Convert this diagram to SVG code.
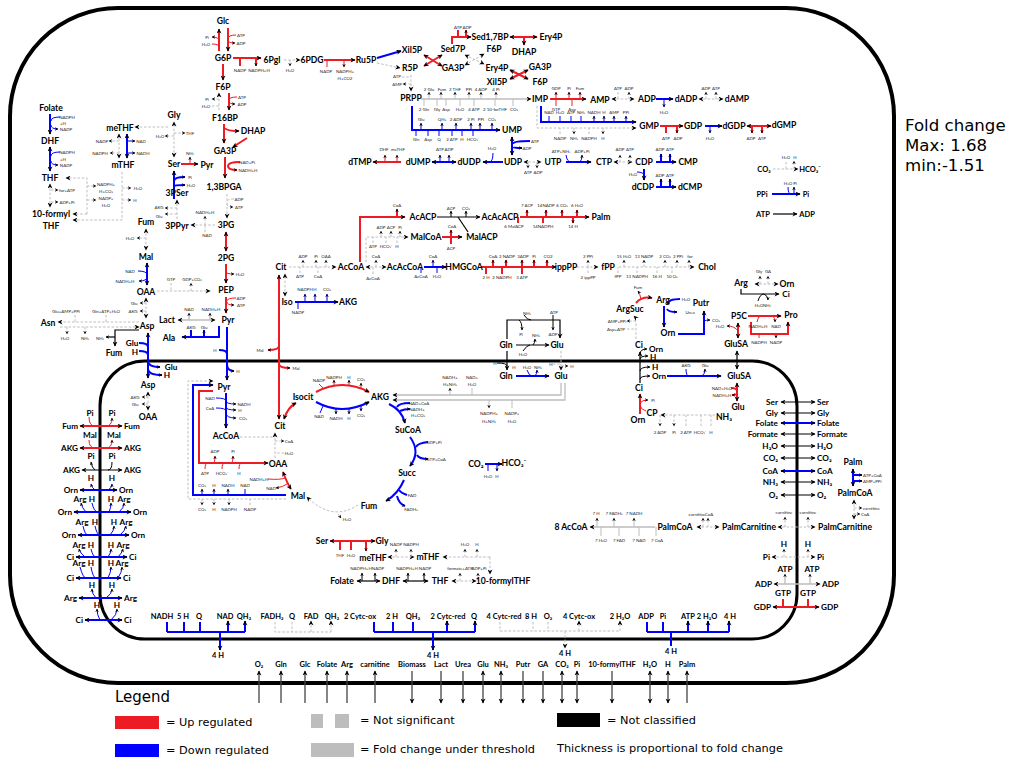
<svg xmlns="http://www.w3.org/2000/svg" width="1012" height="760" viewBox="0 0 1012 760">
<defs>
<style>
.m{font-family:Lato,'Liberation Sans',sans-serif;font-weight:700;font-size:8.6px;text-anchor:middle;dominant-baseline:central;fill:#000}
.m9{font-size:8.2px}
.m8{font-size:7.5px}
.s{font-family:Lato,'Liberation Sans',sans-serif;font-size:4.4px;text-anchor:middle;dominant-baseline:central;fill:#222}
.L{text-anchor:end}
.R{text-anchor:start}
.r{stroke:#ED1C24;fill:none;stroke-width:2}
.b{stroke:#0000FF;fill:none;stroke-width:2}
.g{stroke:#BDBDBD;fill:none;stroke-width:1;stroke-dasharray:2.5 1.8}
.l{stroke:#BDBDBD;fill:none;stroke-width:1.3}
.k{stroke:#000;fill:none;stroke-width:1.2}
.x{stroke:#444;fill:none;stroke-width:1.3}
.t{stroke-width:1}
.e{marker-end:url(#ah)}
.se{marker-start:url(#ah);marker-end:url(#ah)}
.c{marker-end:url(#as)}
.leg{font-family:'DejaVu Sans',Verdana,sans-serif;fill:#000}
</style>
<marker id="ah" viewBox="0 0 10 10" refX="9" refY="5" markerWidth="6" markerHeight="5" markerUnits="userSpaceOnUse" orient="auto-start-reverse"><path d="M0,0L10,5L0,10L3,5z" fill="#000"/></marker>
<marker id="as" viewBox="0 0 10 10" refX="9" refY="5" markerWidth="4" markerHeight="3.5" markerUnits="userSpaceOnUse" orient="auto-start-reverse"><path d="M0,0L10,5L0,10L3,5z" fill="#000"/></marker>
</defs>
<rect width="1012" height="760" fill="#fff"/>
<g id="compartments">
<rect x="10" y="8" width="884" height="675" rx="108" fill="none" stroke="#000" stroke-width="4"/>
<rect x="100" y="361" width="697" height="278" rx="45" fill="none" stroke="#000" stroke-width="3"/>
</g>
<g id="connectors">
<!-- glycolysis -->
<path class="r e" stroke-width="3" d="M219,51V29"/><path class="r t c" d="M219,41Q219,37 212,37"/><path class="r t" d="M212,44Q219,44 219,47"/>
<path class="r e" stroke-width="3" d="M228,28V51"/><path class="r t" d="M236,35Q228,35 228,39"/><path class="r t c" d="M228,40Q228,43 235,43"/>
<path class="r e" stroke-width="4" d="M233,58H261"/><path class="r" d="M240,66V58"/><path class="r c" d="M256,58V66"/>
<path class="r e" d="M223,64V80"/>
<path class="r e" stroke-width="4" d="M229,93V110"/><path class="r t" d="M237,97Q229,97 229,100"/><path class="r t c" d="M229,101Q229,104 235,104"/>
<path class="g e" d="M219,110V93"/><path class="g c" d="M219,99H212"/><path class="g" d="M212,106H219"/>
<path class="r e" d="M224,124V143"/><path class="r e" stroke-width="3" d="M225,128Q226,131 239,131"/><path class="r e" stroke-width="2.5" d="M247,138L233,147"/>
<path class="r e" stroke-width="6" d="M225,157V178"/><path class="r" stroke-width="2.5" d="M240,162Q228,162 228,166"/><path class="r c" stroke-width="2.5" d="M228,166Q228,170 237,170"/>
<path class="g e" d="M227,194V218"/><path class="g" d="M234,199Q227,199 227,202"/><path class="g c" d="M227,204Q227,207 233,207"/>
<path class="r se" d="M226,232V251"/>
<path class="r e" d="M226,264V283"/><path class="r t c" d="M226,272Q226,274 234,274"/>
<path class="r e" stroke-width="4" d="M226,297V313"/><path class="r t" d="M236,298Q227,298 227,301"/><path class="r t c" d="M227,302Q227,305 234,305"/>
<path class="l se" stroke-width="1.5" d="M215,320H178"/><path class="l c" d="M189,320V313"/><path class="l c" d="M210,320V313"/>
<path class="b e" stroke-width="3" d="M219,326V337H182"/><path class="b" d="M191,330V337"/><path class="b c" d="M204,337V330"/>
<path class="b e" stroke-width="3" d="M227,327V380"/><path class="b" d="M219,350Q227,350 227,354"/><path class="b c" d="M227,364Q227,371 234,371"/>
<!-- serine / folate -->
<path class="g e" d="M215,225H191"/><path class="g c" d="M205,225V216"/><path class="g" d="M205,232V225"/>
<path class="g e" d="M177,219V200"/><path class="g c" d="M177,208H165"/><path class="g c" d="M177,214H165"/>
<path class="b e" stroke-width="4" d="M174,199V171"/><path class="b c" d="M174,181Q174,177 185,177"/><path class="b c" d="M174,186Q174,185 185,185"/>
<path class="r e" d="M181,164H198"/><path class="r t c" d="M190,164V157"/>
<path class="g se" d="M174,157V122"/><path class="g c" d="M174,133H185"/><path class="g c" d="M174,136H165"/>
<path class="g e" d="M168,127H135"/>
<path class="g se" d="M119,134V158"/><path class="g c" d="M119,141H109"/><path class="g c" d="M119,153H110"/>
<path class="b se" d="M127,134V158"/><path class="b t c" d="M127,141H135"/><path class="b t c" d="M127,153H135"/>
<path class="b e" stroke-width="2.5" d="M50,114V134"/><path class="b t" d="M60,117Q51,117 51,121"/><path class="b t c" d="M51,125Q51,129 58,129"/>
<path class="b se" stroke-width="2.5" d="M50,147V171"/><path class="b t" d="M60,152Q51,152 51,156"/><path class="b t c" d="M51,161Q51,165 58,165"/>
<path class="g se" d="M50,184V207"/><path class="g c" d="M51,190H58"/><path class="g c" d="M51,202H58"/>
<path class="g e" d="M87,214V178H66"/><path class="g e" d="M87,214H73"/><path class="g e" d="M122,172V220H73"/>
<path class="g c" d="M87,186H96"/><path class="g c" d="M87,200H96"/><path class="g c" d="M122,188H131"/><path class="g c" d="M122,200H131"/>
<!-- cytosolic TCA / aspartate -->
<path class="g se" d="M146,229V250"/><path class="g c" d="M146,238H137"/>
<path class="b se" stroke-width="2.5" d="M147,263V285"/><path class="b t" d="M138,271Q147,271 147,275"/><path class="b t c" d="M147,277Q147,281 139,281"/>
<path class="g e" d="M157,291H210"/><path class="g" d="M171,283V291"/><path class="g c" d="M191,291V283"/>
<path class="g se" d="M146,298V318"/><path class="g c" d="M146,303H140"/><path class="g c" d="M146,311H140"/>
<path class="g e" d="M139,322H58"/><path class="g e" d="M60,327H139"/><path class="g" d="M75,315V322"/><path class="g" d="M106,315V322"/><path class="g c" d="M67,327V334"/><path class="g c" d="M85,327V334"/>
<path class="k e" stroke-width="1.5" d="M139,330H115V346"/><path class="k c" d="M115,337H106"/>
<path class="b se" stroke-width="3" d="M148,333V378"/><path class="b" d="M139,343Q148,343 148,347"/><path class="b" d="M139,351Q148,351 148,355"/><path class="b c" d="M148,361Q148,367 160,367"/><path class="b c" d="M148,369Q148,375 162,375"/>
<path class="g se" d="M148,392V410"/><path class="g c" d="M148,397H142"/><path class="g c" d="M148,404H142"/>
<!-- mitochondrial pyruvate -->
<path class="b e" stroke-width="2.5" d="M226,393V428"/><path class="b t" d="M216,398Q226,398 226,401"/><path class="b t" d="M216,408Q226,408 226,411"/><path class="b t c" d="M226,401Q226,404 236,404"/><path class="b t c" d="M226,407Q226,410 236,410"/><path class="b t c" d="M226,413Q226,418 236,418"/>
<path class="r e" d="M213,391H199V463H268"/><path class="r t c" d="M213,463Q215,463 215,456"/><path class="r t c" d="M231,463Q233,463 233,456"/><path class="r t" d="M205,469Q205,463 208,463"/><path class="r t" d="M222,469Q222,463 225,463"/><path class="r t" d="M239,469Q239,463 242,463"/>
<path class="b e" stroke-width="2.5" d="M286,495H193V385H213"/><path class="b t c" d="M202,495V489"/><path class="b t c" d="M214,495V489"/><path class="b t c" d="M228,495V489"/><path class="b t" d="M245,489V495"/>
<path class="g e" d="M286,499H188V381H213"/><path class="g c" d="M202,499V505"/><path class="g c" d="M214,499V505"/><path class="g c" d="M229,499V505"/><path class="g" d="M250,505V499"/>
<!-- TCA -->
<path class="r se" d="M284,419Q288,407 296,403"/>
<path class="r e" stroke-width="1.5" d="M316,392Q342,378 369,392"/><path class="r t" d="M319,384L323,388"/><path class="r t c" d="M334,386V380"/><path class="r t c" d="M349,386V380"/><path class="r t c" d="M361,389V383"/>
<path class="b e" stroke-width="1.5" d="M316,402Q342,416 369,402"/><path class="b t" d="M320,413L323,406"/><path class="b t c" d="M336,409V414"/><path class="b t c" d="M349,408V414"/><path class="b t c" d="M361,405V411"/>
<path class="b e" stroke-width="3" d="M389,404Q402,410 405,423"/><path class="b" stroke-width="1.5" d="M410,403Q399,403 397,407"/><path class="b c" stroke-width="1.5" d="M400,411Q404,409 410,409"/>
<path class="b e" stroke-width="3.5" d="M410,437Q421,452 410,466"/><path class="b" stroke-width="1.5" d="M428,442Q418,443 416,447"/><path class="b c" stroke-width="1.5" d="M417,455Q419,459 428,459"/>
<path class="b e" stroke-width="3" d="M404,480Q398,494 386,501"/><path class="b" stroke-width="1.5" d="M407,495Q401,493 399,490"/><path class="b c" stroke-width="1.5" d="M397,496Q399,504 405,506"/>
<path class="g e" d="M358,505Q332,522 307,497"/><path class="g c" d="M338,514L341,518"/>
<path class="r se" stroke-width="1.5" d="M283,472Q287,483 291,489"/><path class="r t" d="M268,479Q280,480 285,478"/><path class="r t c" d="M287,484Q283,487 276,488"/>
<path class="g" d="M240,437H275"/><path class="g e" d="M275,458V433"/><path class="g c" d="M275,441H284"/><path class="g" d="M284,453H275"/>
<path class="r se" stroke-width="4" d="M279,275V419"/><path class="r c" stroke-width="1.5" d="M279,346Q279,350 268,350"/><path class="r c" stroke-width="1.5" d="M279,364Q279,368 290,368"/>
<!-- cytosolic acetyl-CoA / cholesterol -->
<path class="g e" d="M289,267H336"/><path class="g c" d="M303,267V260"/><path class="g c" d="M316,267V260"/><path class="g c" d="M326,267V260"/><path class="g" d="M300,273V267"/><path class="g" d="M318,273V267"/>
<path class="g se" d="M366,267H386"/><path class="g c" d="M376,267V260"/><path class="g" d="M373,274V267"/>
<path class="b e" stroke-width="2.5" d="M424,267H446"/><path class="b t c" d="M433,267V260"/><path class="b t" d="M421,273V267"/><path class="b t" d="M437,273V267"/>
<path class="r e" stroke-width="5" d="M481,267H556"/><path class="r c" d="M493,267V260"/><path class="r c" d="M506,267V260"/><path class="r c" d="M522,267V260"/><path class="r c" d="M534,267V260"/><path class="r c" d="M547,267V260"/><path class="r" d="M486,274V267"/><path class="r" d="M502,274V267"/><path class="r" d="M522,274V267"/>
<path class="g e" d="M577,267H598"/><path class="g c" d="M588,267V260"/><path class="g" d="M588,273V267"/>
<path class="g e" d="M619,267H694"/><path class="g c" d="M624,267V260"/><path class="g c" d="M644,267V260"/><path class="g c" d="M665,267V260"/><path class="g c" d="M677,267V260"/><path class="g c" d="M689,267V260"/><path class="g" d="M618,273V267"/><path class="g" d="M637,273V267"/><path class="g" d="M657,273V267"/><path class="g" d="M672,273V267"/>
<path class="g se" d="M285,296V274"/>
<path class="b e" stroke-width="2.5" d="M295,302H338"/><path class="b t c" d="M305,302V294"/><path class="b t c" d="M315,302V294"/><path class="b t c" d="M327,302V294"/><path class="b t" d="M298,309V302"/>
<!-- fatty acid synthesis -->
<path class="r e" stroke-width="5" d="M360,262V217H405"/><path class="r c" stroke-width="2.5" d="M397,217V209"/>
<path class="g e" d="M366,262V237H408"/><path class="g c" d="M381,237V231"/><path class="g c" d="M391,237V231"/><path class="g c" d="M400,237V231"/><path class="g" d="M373,243V237"/><path class="g" d="M386,243V237"/><path class="g" d="M397,243V237"/>
<path class="r e" stroke-width="6" d="M442,237H462"/><path class="r c" stroke-width="3" d="M451,237V230"/><path class="r" stroke-width="3" d="M451,244V237"/>
<path class="k e" d="M437,217H480"/><path class="k t c" d="M451,217V211"/><path class="k t c" d="M466,217V211"/><path class="k" d="M468,232L458,217"/>
<path class="r e" stroke-width="5" d="M520,217H589"/><path class="r c" d="M527,217V210"/><path class="r c" d="M546,217V210"/><path class="r c" d="M562,217V210"/><path class="r c" d="M577,217V210"/><path class="r" d="M518,223V217"/><path class="r" d="M543,223V217"/><path class="r c" d="M573,217V223"/>
<!-- pentose phosphate -->
<path class="g e" d="M284,60H300"/><path class="g c" d="M290,60V66"/>
<path class="r e" d="M324,60H355"/><path class="r t" d="M327,67V60"/><path class="r t c" d="M344,60V67"/>
<path class="b e" stroke-width="4" d="M377,58L401,51"/>
<path class="g e" d="M377,63L400,68"/>
<path class="g e" d="M411,75V91"/><path class="g" d="M402,77H411"/><path class="g c" d="M411,84H403"/>
<path class="r se" d="M424,55L442,66"/><path class="r se" d="M424,66L442,55"/>
<path class="g se" d="M465,55L484,64"/><path class="g se" d="M465,65L484,54"/>
<path class="r se" d="M510,70L528,79"/><path class="r se" d="M510,79L528,70"/>
<path class="r e" stroke-width="5" d="M452,44V37H471"/><path class="r" d="M458,30V37"/><path class="r c" d="M466,37V30"/>
<path class="r se" d="M510,37H537"/><path class="r e" d="M524,37V45"/>
<!-- nucleotides -->
<path class="l e" stroke-width="1.5" d="M421,99H531"/>
<path class="l t c" d="M429,99V92"/><path class="l t c" d="M441,99V92"/><path class="l t c" d="M455,99V92"/><path class="l t c" d="M469,99V92"/><path class="l t c" d="M481,99V92"/><path class="l t c" d="M496,99V92"/>
<path class="l t" d="M424,106V99"/><path class="l t" d="M437,106V99"/><path class="l t" d="M446,106V99"/><path class="l t" d="M460,106V99"/><path class="l t" d="M474,106V99"/><path class="l t" d="M495,106V99"/><path class="l t" d="M513,106V99"/>
<path class="b e" d="M412,106V130H500"/>
<path class="b t c" d="M421,130V123"/><path class="b t c" d="M442,130V123"/><path class="b t c" d="M456,130V123"/><path class="b t c" d="M471,130V123"/><path class="b t c" d="M480,130V123"/><path class="b t c" d="M492,130V123"/>
<path class="b t" d="M416,136V130"/><path class="b t" d="M428,136V130"/><path class="b t" d="M439,136V130"/><path class="b t" d="M452,136V130"/><path class="b t" d="M462,136V130"/><path class="b t" d="M473,136V130"/>
<path class="r e" d="M550,99H586"/><path class="r t c" d="M556,99V92"/><path class="r t c" d="M569,99V92"/><path class="r t c" d="M580,99V92"/><path class="r t" d="M556,106V99"/><path class="r t" d="M572,106V99"/>
<path class="g se" d="M612,99H634"/><path class="g" d="M618,92V99"/><path class="g c" d="M629,99V92"/>
<path class="b e" stroke-width="3" d="M656,99H673"/><path class="b t c" d="M664,99V107"/>
<path class="g se" d="M699,99H723"/><path class="g c" d="M706,99V92"/><path class="g c" d="M716,99V92"/>
<path class="b e" stroke-width="2.5" d="M541,106V122H636"/><path class="b t" d="M549,116V122"/><path class="b t" d="M560,116V122"/><path class="b t" d="M571,116V122"/><path class="b t" d="M581,116V122"/><path class="b t c" d="M594,122V116"/><path class="b t c" d="M604,122V116"/><path class="b t c" d="M614,122V116"/><path class="b t c" d="M626,122V116"/>
<path class="g e" d="M537,106V128H636"/><path class="g" d="M560,134V128"/><path class="g c" d="M574,128V134"/><path class="g" d="M589,134V128"/><path class="g c" d="M603,128V134"/>
<path class="r e" stroke-width="5" d="M660,126H683"/><path class="r" d="M666,133V126"/><path class="r c" d="M677,126V133"/>
<path class="b e" stroke-width="3" d="M705,126H722"/><path class="b t c" d="M710,126V133"/>
<path class="r se" stroke-width="5" d="M747,126H771"/><path class="r c" d="M752,126V133"/><path class="r c" d="M762,126V133"/>
<path class="b se" stroke-width="5" d="M512,137V155"/><path class="b" d="M530,141Q513,141 513,144"/><path class="b c" d="M513,147Q513,148 522,148"/>
<path class="r e" d="M401,162H373"/><path class="r t c" d="M385,162V155"/><path class="r t c" d="M397,162V155"/>
<path class="b se" d="M432,162H456"/><path class="b t c" d="M440,162V155"/><path class="b t c" d="M449,162V155"/>
<path class="b e" stroke-width="3" d="M503,162H483"/><path class="b t" d="M493,153Q493,162 489,162"/>
<path class="g se" d="M524,162H541"/><path class="g c" d="M528,162V168"/><path class="g c" d="M537,162V168"/>
<path class="b e" stroke-width="1.5" d="M566,162H591"/><path class="b t" d="M566,155Q567,162 571,162"/><path class="b t c" d="M580,162Q582,160 582,155"/>
<path class="g se" d="M614,162H632"/><path class="g c" d="M620,162V155"/><path class="g c" d="M630,162V155"/>
<path class="b e" stroke-width="6" d="M656,162H676"/><path class="b c" stroke-width="4" d="M661,162V154"/><path class="b c" stroke-width="4" d="M670,162V154"/>
<path class="b e" d="M644,169V180"/><path class="b t" d="M637,172Q644,172 644,176"/>
<path class="b e" stroke-width="6" d="M656,187H676"/><path class="b c" stroke-width="4" d="M661,187V179"/><path class="b c" stroke-width="4" d="M670,187V179"/>
<path class="g e" d="M773,169H798"/><path class="g" d="M786,162V169"/><path class="g c" d="M794,169V161"/>
<path class="b e" stroke-width="1.5" d="M772,194H800"/><path class="b t" d="M788,187Q788,194 791,194"/><path class="b t c" d="M794,194V187"/>
<path class="k e" d="M773,214H797"/>
<!-- glutamine / glutamate -->
<path class="k e" stroke-width="1.5" d="M507,339V320H560V338"/><path class="k t" d="M524,315Q527,320 531,320"/><path class="k t c" d="M519,320Q522,322 522,330"/><path class="k t" d="M553,315V320"/><path class="k t c" d="M553,320V330"/>
<path class="k e" stroke-width="1.5" d="M516,345H549"/><path class="k t c" d="M533,345Q535,343 535,339"/><path class="k t" d="M523,351Q527,345 530,345"/>
<path class="k e" stroke-width="1.5" d="M507,351V370"/><path class="k t" d="M497,363Q507,363 507,366"/>
<path class="g e" d="M561,351V370"/><path class="g" d="M553,364H561"/><path class="g c" d="M561,366H568"/>
<path class="b e" stroke-width="1.5" d="M516,376H549"/><path class="b t" d="M527,370Q529,376 532,376"/><path class="b t c" d="M535,376Q537,374 537,370"/>
<path class="l e" d="M561,383V395H393"/><path class="l e" d="M565,383V400H393"/>
<path class="l t c" d="M450,395V388"/><path class="l t" d="M472,388V395"/><path class="l t c" d="M489,400V408"/><path class="l t" d="M512,408V400"/>
<path class="b e" stroke-width="1.5" d="M485,464H502"/><path class="b t" d="M488,471V464"/><path class="b t c" d="M497,464V471"/>
<!-- urea cycle / arginine -->
<path class="g e" d="M636,339V326Q636,318 634,316"/><path class="g c" d="M636,321H627"/><path class="g" d="M627,329H636"/>
<path class="r e" stroke-width="1.5" d="M636,303Q642,296 652,298"/><path class="r t c" d="M641,299Q640,294 638,291"/>
<path class="b e" stroke-width="5" d="M664,306V327"/><path class="b" stroke-width="2" d="M680,299Q668,299 668,304"/><path class="b c" stroke-width="2" d="M667,309Q668,312 677,312"/>
<path class="b e" stroke-width="1.2" d="M678,334H704V311"/><path class="b t c" d="M704,321Q706,320 710,320"/>
<path class="k e" stroke-width="1.5" d="M640,383V352"/><path class="k t c" d="M640,354Q640,349 647,349"/><path class="k t c" d="M640,359Q640,356 648,356"/><path class="k t c" d="M640,371Q640,367 650,367"/><path class="k t c" d="M640,379Q640,376 650,376"/>
<path class="b e" d="M667,376H721"/><path class="b t" d="M686,369Q686,376 689,376"/><path class="b t c" d="M702,376Q705,374 705,369"/>
<path class="k se" d="M737,369V351"/>
<path class="r se" d="M738,338V323"/><path class="r t c" d="M738,331Q735,326 727,326"/>
<path class="r se" stroke-width="4" d="M737,383V401"/><path class="r" stroke-width="1.5" d="M731,388Q737,388 737,391"/><path class="r c" stroke-width="1.5" d="M737,393Q737,395 732,395"/>
<path class="r e" stroke-width="3" d="M640,414V394"/><path class="r t" d="M646,411Q640,409 640,405"/><path class="r t c" d="M640,403Q642,400 648,400"/>
<path class="g e" d="M715,415H661"/><path class="g c" d="M660,415V426"/><path class="g c" d="M674,415V426"/><path class="g" d="M686,426V415"/><path class="g" d="M701,426V415"/><path class="g" d="M711,426V415"/>
<path class="g se" d="M755,284H778"/><path class="g c" d="M760,284V276"/><path class="g c" d="M768,284V276"/>
<path class="k e" d="M741,289V294H779"/><path class="k t" d="M758,301Q760,294 764,294"/><path class="k t c" d="M764,294Q768,296 768,300"/>
<path class="r e" stroke-width="1.5" d="M748,316H781"/><path class="r t" d="M757,322Q758,316 761,316"/><path class="r t c" d="M773,316Q775,318 775,322"/>
<path class="r e" stroke-width="1.5" d="M751,322V334H788V322"/><path class="r t" d="M759,338V334"/><path class="r t c" d="M776,334V338"/>
<!-- mito folate / serine -->
<path class="r se" stroke-width="5" d="M330,541H375"/><path class="r" stroke-width="2.5" d="M340,550V541"/><path class="r" stroke-width="2.5" d="M351,550V541"/><path class="r c" stroke-width="2.5" d="M366,541V551"/>
<path class="g se" d="M388,557H414"/><path class="g c" d="M396,557V549"/><path class="g c" d="M411,557V549"/>
<path class="g e" d="M490,557H443"/><path class="g e" d="M490,557V574"/><path class="g c" d="M465,557V549"/><path class="g c" d="M477,557V549"/>
<path class="k se" d="M357,581H380"/><path class="k t c" d="M362,581V573"/><path class="k t c" d="M375,581V573"/>
<path class="k se" d="M403,581H428"/><path class="k t c" d="M408,581V573"/><path class="k t c" d="M424,581V573"/>
<path class="g se" d="M452,581H476"/><path class="g c" d="M460,581V573"/><path class="g c" d="M478,581V573"/>
<!-- beta oxidation / carnitine -->
<path class="l e" d="M655,527H590"/><path class="l t c" d="M597,527V518"/><path class="l t c" d="M614,527V518"/><path class="l t c" d="M634,527V518"/><path class="l t" d="M601,536V527"/><path class="l t" d="M619,536V527"/><path class="l t" d="M639,536V527"/><path class="l t" d="M656,536V527"/>
<path class="g se" d="M697,527H719"/><path class="g c" d="M703,527V518"/><path class="g c" d="M708,527V518"/>
<path class="g se" d="M778,527H815"/><path class="g c" d="M785,527V517"/><path class="g c" d="M808,527V517"/>
<path class="g se" d="M854,500V519"/><path class="g c" d="M854,508H862"/><path class="g c" d="M854,514H860"/>
<path class="b se" stroke-width="3" d="M853,469V486"/><path class="b c" stroke-width="2" d="M853,475H862"/><path class="b c" stroke-width="2" d="M853,481H862"/>
<!-- mitochondrial transporters right -->
<path class="k se" d="M781,402H815"/><path class="k se" d="M781,413H815"/><path class="b se" stroke-width="3" d="M781,423H815"/><path class="k se" d="M781,434H815"/><path class="k se" d="M781,446H815"/><path class="k se" d="M781,458H815"/><path class="b se" stroke-width="3" d="M781,471H815"/><path class="k se" d="M781,482H815"/><path class="k se" d="M781,495H815"/>
<path class="g se" d="M772,557H815"/><path class="g c" d="M784,557V549"/><path class="g c" d="M808,557V549"/>
<path class="l se" d="M774,584H820"/><path class="l c" d="M785,584V574"/><path class="l c" d="M810,584V574"/>
<path class="r se" stroke-width="6" d="M773,607H819"/><path class="r" stroke-width="6" d="M783,607V599"/><path class="r" stroke-width="6" d="M808,607V599"/>
<!-- mitochondrial transporters left -->
<path class="r se" stroke-width="2.5" d="M80,426H122"/><path class="r t" d="M89,417Q89,426 95,426"/><path class="r t c" d="M106,426Q112,426 112,418"/>
<path class="r se" stroke-width="2.5" d="M80,448H122"/><path class="r t" d="M89,440Q89,448 95,448"/><path class="r t c" d="M106,448Q112,448 112,440"/>
<path class="k se" stroke-width="1.5" d="M82,470H122"/><path class="k t c" d="M95,470Q92,468 91,462"/><path class="k t" d="M112,462Q112,470 108,470"/>
<path class="b se" stroke-width="2.5" d="M80,490H117"/><path class="b t c" d="M95,490Q92,488 91,484"/><path class="b t c" d="M108,490Q112,488 112,484"/>
<path class="b se" stroke-width="3" d="M74,512H131"/><path class="b t c" d="M86,512Q82,508 81,503"/><path class="b t" d="M92,503Q94,512 98,512"/><path class="b t c" d="M109,512Q111,508 111,503"/><path class="b t c" d="M119,512Q124,508 124,503"/>
<path class="b se" stroke-width="3" d="M78,535H129"/><path class="b t" d="M83,526Q85,535 88,535"/><path class="b t" d="M95,526Q97,535 100,535"/><path class="b t c" d="M110,535Q114,531 114,526"/><path class="b t c" d="M120,535Q125,531 126,526"/>
<path class="b se" stroke-width="3" d="M76,557H127"/><path class="b t c" d="M85,557Q80,553 79,549"/><path class="b t" d="M91,549Q93,557 96,557"/><path class="b t c" d="M108,557Q111,553 111,549"/><path class="b t c" d="M118,557Q122,553 123,549"/>
<path class="b se" stroke-width="3" d="M76,578H121"/><path class="b t" d="M80,567Q83,578 86,578"/><path class="b t" d="M91,567Q93,578 96,578"/><path class="b t c" d="M108,578Q111,572 111,567"/><path class="b t c" d="M118,578Q122,572 122,567"/>
<path class="b se" stroke-width="1.5" d="M79,598H122"/><path class="b t c" d="M96,598Q92,594 92,589"/><path class="b t c" d="M106,598Q112,594 112,589"/>
<path class="b se" stroke-width="1.5" d="M85,620H122"/><path class="b t c" d="M100,620Q97,615 97,609"/><path class="b t c" d="M111,620Q117,615 117,609"/>
<!-- electron transport chain -->
<path class="b" d="M167,632H245M167,622V632M184,622V632M200,622V632"/><path class="b e" d="M228,632V621"/><path class="b e" d="M245,632V621"/><path class="b e" d="M220,632V650"/>
<path class="g" d="M275,622V632H331M292,622V632"/><path class="g e" d="M311,632V621"/><path class="g e" d="M331,632V621"/>
<path class="b" d="M374,632H475M374,622V632M393,622V632M413,622V632"/><path class="b e" d="M447,632V621"/><path class="b e" d="M475,632V621"/><path class="b e" d="M433,632V650"/>
<path class="g" d="M500,631H620M500,622V631M533,622V631M548,622V631"/><path class="g e" d="M579,631V621"/><path class="g e" d="M620,631V621"/><path class="g e" d="M565,631V648"/>
<path class="b" d="M647,632H729M647,622V632M663,622V632M671,632V646"/><path class="b e" d="M688,632V621"/><path class="b e" d="M708,632V621"/><path class="b e" d="M729,632V621"/>
<!-- exchange fluxes -->
<path class="x e" d="M259,703V671"/><path class="x e" d="M281,703V671"/><path class="x e" d="M305,703V671"/><path class="x e" d="M327,703V671"/><path class="x e" d="M347,703V671"/><path class="x e" d="M375,703V671"/>
<path class="x e" d="M412,671V703"/><path class="x e" d="M441,671V703"/><path class="x e" d="M463,671V703"/><path class="x se" d="M483,671V703"/><path class="x se" stroke-width="2" stroke="#111" d="M501,671V703"/>
<path class="x e" d="M523,671V703"/><path class="x e" d="M543,671V703"/><path class="x se" d="M562,671V703"/><path class="x se" d="M577,671V703"/><path class="x e" d="M612,671V703"/>
<path class="x se" d="M650,671V703"/><path class="x se" d="M668,671V703"/><path class="x e" d="M687,703V671"/>
</g>
<g id="cofactors">
<text class="s" x="207" y="37">Pi</text><text class="s" x="206" y="44">H₂O</text><text class="s" x="241" y="35">ATP</text><text class="s" x="241" y="43">ADP</text>
<text class="s" x="240" y="70">NADP</text><text class="s" x="259" y="70">NADPH+H</text>
<text class="s" x="242" y="97">ATP</text><text class="s" x="242" y="104">ADP</text><text class="s" x="207" y="99">Pi</text><text class="s" x="206" y="106">H₂O</text>
<text class="s" x="247" y="162">NAD+Pi</text><text class="s" x="248" y="170">NADH+H</text>
<text class="s" x="239" y="199">ADP</text><text class="s" x="239" y="207">ATP</text>
<text class="s" x="240" y="274">H₂O</text><text class="s" x="241" y="298">ADP</text><text class="s" x="241" y="305">ATP</text>
<text class="s" x="189" y="309">NAD</text><text class="s" x="211" y="309">NADH+H</text>
<text class="s" x="191" y="327">AKG</text><text class="s" x="204" y="327">Glu</text>
<text class="s" x="215" y="350">H</text><text class="s" x="238" y="371">H</text>
<text class="s" x="205" y="212">NADH+H</text><text class="s" x="207" y="235">NAD</text>
<text class="s" x="159" y="207">AKG</text><text class="s" x="159" y="216">Glu</text>
<text class="s" x="190" y="177">Pi</text><text class="s" x="191" y="185">H₂O</text><text class="s" x="190" y="153">NH₃</text>
<text class="s" x="190" y="133">THF</text><text class="s" x="160" y="136">H₂O</text>
<text class="s" x="102" y="141">NADP</text><text class="s" x="100" y="153">NADPH</text><text class="s" x="141" y="141">NAD</text><text class="s" x="143" y="153">NADH</text>
<text class="s" x="67" y="117">NADPH</text><text class="s" x="63" y="123">+H</text><text class="s" x="66" y="129">NADP</text>
<text class="s" x="67" y="152">NADPH</text><text class="s" x="63" y="159">+H</text><text class="s" x="66" y="165">NADP</text>
<text class="s" x="67" y="190">for+ATP</text><text class="s" x="67" y="202">ADP+Pi</text>
<text class="s" x="106" y="184">NADPH+</text><text class="s" x="106" y="191">H+CO₂</text><text class="s" x="106" y="198">NADP+</text><text class="s" x="106" y="205">H₂O</text>
<text class="s" x="138" y="188">H₂O</text><text class="s" x="135" y="200">H</text>
<text class="s" x="130" y="238">H₂O</text><text class="s" x="130" y="271">NAD</text><text class="s" x="125" y="281">NADH+H</text>
<text class="s" x="171" y="279">GTP</text><text class="s" x="192" y="279">GDP+CO₂</text>
<text class="s" x="134" y="303">Glu</text><text class="s" x="133" y="311">AKG</text>
<text class="s" x="66" y="311">Glu+AMP+PPi</text><text class="s" x="106" y="311">Gln+ATP+H₂O</text><text class="s" x="65" y="338">H₂O</text><text class="s" x="85" y="338">NH₃</text><text class="s" x="100" y="338">NH₃</text>
<text class="s" x="135" y="397">AKG</text><text class="s" x="135" y="404">Glu</text>
<text class="s" x="210" y="398">NAD</text><text class="s" x="210" y="408">CoA</text><text class="s" x="244" y="404">NADH</text><text class="s" x="240" y="410">H</text><text class="s" x="243" y="418">CO₂</text>
<text class="s" x="215" y="451">ADP</text><text class="s" x="233" y="451">Pi</text><text class="s" x="205" y="473">ATP</text><text class="s" x="222" y="473">HCO₃⁻</text><text class="s" x="239" y="473">H</text>
<text class="s" x="202" y="485">CO₂</text><text class="s" x="214" y="485">H</text><text class="s" x="228" y="485">NADH</text><text class="s" x="245" y="485">NAD</text>
<text class="s" x="202" y="509">CO₂</text><text class="s" x="214" y="509">H</text><text class="s" x="229" y="509">NADPH</text><text class="s" x="250" y="509">NADP</text>
<text class="s" x="319" y="380">NADP</text><text class="s" x="334" y="377">NADPH</text><text class="s" x="349" y="377">H</text><text class="s" x="361" y="379">CO₂</text>
<text class="s" x="319" y="416">NAD</text><text class="s" x="336" y="418">NADH</text><text class="s" x="349" y="418">H</text><text class="s" x="361" y="415">CO₂</text>
<text class="s" x="419" y="403">NAD+CoA</text><text class="s" x="417" y="409">NADH+</text><text class="s" x="418" y="415">H+CO₂</text>
<text class="s" x="434" y="442">GDP+Pi</text><text class="s" x="436" y="459">GTP+CoA</text>
<text class="s" x="412" y="495">FAD</text><text class="s" x="411" y="509">FADH₂</text><text class="s" x="347" y="519">H₂O</text>
<text class="s" x="259" y="479">NADH+H</text><text class="s" x="271" y="488">NAD</text>
<text class="s" x="289" y="441">CoA</text><text class="s" x="289" y="453">H₂O</text>
<text class="s" x="260" y="350">Mal</text><text class="s" x="296" y="368">Mal</text>
<text class="s" x="303" y="256">ADP</text><text class="s" x="316" y="256">Pi</text><text class="s" x="326" y="256">OAA</text><text class="s" x="300" y="276">ATP</text><text class="s" x="318" y="276">CoA</text>
<text class="s" x="376" y="256">CoA</text><text class="s" x="373" y="278">AcCoA</text>
<text class="s" x="433" y="256">CoA</text><text class="s" x="421" y="276">AcCoA</text><text class="s" x="437" y="276">H₂O</text>
<text class="s" x="493" y="256">CoA</text><text class="s" x="507" y="256">2 NADP</text><text class="s" x="523" y="256">3ADP</text><text class="s" x="534" y="256">Pi</text><text class="s" x="548" y="256">CO2</text>
<text class="s" x="486" y="277">2 H</text><text class="s" x="502" y="277">2 NADPH</text><text class="s" x="522" y="277">3 ATP</text>
<text class="s" x="588" y="256">2 PPi</text><text class="s" x="588" y="277">2 ippPP</text>
<text class="s" x="624" y="256">15 H₂O</text><text class="s" x="644" y="256">13 NADP</text><text class="s" x="665" y="256">2 CO₂</text><text class="s" x="678" y="256">2 PPi</text><text class="s" x="690" y="256">for</text>
<text class="s" x="618" y="276">fPP</text><text class="s" x="637" y="276">13 NADPH</text><text class="s" x="657" y="276">16 H</text><text class="s" x="672" y="276">10 O₂</text>
<text class="s" x="298" y="312">NADP</text><text class="s" x="305" y="289">NADPH</text><text class="s" x="315" y="289">H</text><text class="s" x="327" y="289">CO₂</text>
<text class="s" x="397" y="205">CoA</text>
<text class="s" x="381" y="227">ADP</text><text class="s" x="391" y="227">ACP</text><text class="s" x="400" y="227">Pi</text><text class="s" x="373" y="246">ATP</text><text class="s" x="386" y="246">HCO₃⁻</text><text class="s" x="397" y="246">H</text>
<text class="s" x="452" y="226">CoA</text><text class="s" x="451" y="248">ACP</text><text class="s" x="451" y="208">ACP</text><text class="s" x="466" y="208">CO₂</text>
<text class="s" x="527" y="205">7 ACP</text><text class="s" x="546" y="205">14NADP</text><text class="s" x="562" y="205">6 CO₂</text><text class="s" x="577" y="205">6 H₂O</text>
<text class="s" x="514" y="226">6 MalACP</text><text class="s" x="543" y="226">14NADPH</text><text class="s" x="573" y="226">14 H</text>
<text class="s" x="290" y="70">H₂O</text><text class="s" x="326" y="71">NADP</text><text class="s" x="345" y="71">NADPH+</text><text class="s" x="345" y="78">H+CO2</text>
<text class="s" x="397" y="76">ATP</text><text class="s" x="397" y="84">AMP</text><text class="s" x="458" y="27">ATP</text><text class="s" x="467" y="27">ADP</text>
<text class="s" x="429" y="89">2 Glu</text><text class="s" x="442" y="89">Fum</text><text class="s" x="455" y="89">2 THF</text><text class="s" x="469" y="89">PPi</text><text class="s" x="481" y="89">4 ADP</text><text class="s" x="496" y="89">4 Pi</text>
<text class="s" x="424" y="109">2 Gln</text><text class="s" x="437" y="109">Gly</text><text class="s" x="446" y="109">Asp</text><text class="s" x="460" y="109">H₂O</text><text class="s" x="474" y="109">4 ATP</text><text class="s" x="495" y="109">2 10-forTHF</text><text class="s" x="514" y="109">CO₂</text>
<text class="s" x="421" y="119">Glu</text><text class="s" x="442" y="119">QH₂</text><text class="s" x="456" y="119">2 ADP</text><text class="s" x="471" y="119">2 Pi</text><text class="s" x="481" y="119">PPi</text><text class="s" x="492" y="119">CO₂</text>
<text class="s" x="416" y="139">Gln</text><text class="s" x="428" y="139">Asp</text><text class="s" x="439" y="139">Q</text><text class="s" x="452" y="139">2 ATP</text><text class="s" x="462" y="139">H</text><text class="s" x="473" y="139">HCO₃⁻</text>
<text class="s" x="556" y="88">GDP</text><text class="s" x="569" y="88">Pi</text><text class="s" x="580" y="88">Fum</text><text class="s" x="556" y="109">GTP</text><text class="s" x="572" y="109">Asp</text>
<text class="s" x="618" y="88">ATP</text><text class="s" x="629" y="88">ADP</text><text class="s" x="664" y="112">H₂O</text><text class="s" x="706" y="88">ADP</text><text class="s" x="716" y="88">ATP</text>
<text class="s" x="549" y="112">NAD</text><text class="s" x="560" y="112">H₂O</text><text class="s" x="571" y="112">ATP</text><text class="s" x="581" y="112">NH₃</text><text class="s" x="594" y="112">NADH</text><text class="s" x="604" y="112">H</text><text class="s" x="614" y="112">AMP</text><text class="s" x="626" y="112">PPi</text>
<text class="s" x="560" y="138">NADP</text><text class="s" x="574" y="138">NH₃</text><text class="s" x="589" y="138">NADPH</text><text class="s" x="603" y="138">H</text>
<text class="s" x="666" y="138">ATP</text><text class="s" x="678" y="138">ADP</text><text class="s" x="710" y="138">H₂O</text><text class="s" x="751" y="138">ADP</text><text class="s" x="762" y="138">ATP</text>
<text class="s" x="535" y="141">ATP</text><text class="s" x="527" y="148">ADP</text>
<text class="s" x="384" y="149">DHF</text><text class="s" x="398" y="149">meTHF</text><text class="s" x="440" y="149">ATP</text><text class="s" x="449" y="149">ADP</text><text class="s" x="492" y="148">H₂O</text>
<text class="s" x="528" y="172">ATP</text><text class="s" x="538" y="172">ADP</text><text class="s" x="561" y="151">ATP+NH₃</text><text class="s" x="582" y="151">ADP+Pi</text>
<text class="s" x="620" y="149">ADP</text><text class="s" x="630" y="149">ATP</text><text class="s" x="660" y="149">ADP</text><text class="s" x="670" y="149">ATP</text>
<text class="s" x="633" y="174">H₂O</text><text class="s" x="660" y="175">ADP</text><text class="s" x="670" y="175">ATP</text>
<text class="s" x="786" y="157">H₂O</text><text class="s" x="795" y="157">H</text><text class="s" x="788" y="183">H₂O</text><text class="s" x="795" y="183">Pi</text>
<text class="s" x="527" y="313">NH₃</text><text class="s" x="521" y="334">Pi</text><text class="s" x="554" y="312">ATP</text><text class="s" x="553" y="334">ADP</text>
<text class="s" x="536" y="335">NH₃</text><text class="s" x="523" y="354">H₂O</text><text class="s" x="495" y="363">H</text><text class="s" x="551" y="364">H</text><text class="s" x="572" y="366">H</text>
<text class="s" x="514" y="367">H</text><text class="s" x="527" y="367">H₂O</text><text class="s" x="538" y="367">NH₃</text>
<text class="s" x="450" y="377">NADH+</text><text class="s" x="450" y="384">H+NH₃</text><text class="s" x="472" y="377">NAD+</text><text class="s" x="472" y="384">H₂O</text>
<text class="s" x="489" y="413">NADPH+</text><text class="s" x="489" y="421">H+NH₃</text><text class="s" x="512" y="413">NADP+</text><text class="s" x="512" y="421">H₂O</text>
<text class="s" x="488" y="476">H₂O</text><text class="s" x="497" y="476">H</text>
<text class="s" x="638" y="287">Fum</text><text class="s" x="686" y="299">H₂O</text><text class="s" x="690" y="312">Urea</text><text class="s" x="716" y="320">CO₂</text>
<text class="s" x="617" y="321">AMP+PPi</text><text class="s" x="616" y="329">Asp+ATP</text>
<text class="s" x="686" y="365">AKG</text><text class="s" x="705" y="365">Glu</text><text class="s" x="720" y="326">H₂O</text>
<text class="s" x="722" y="388">NAD+H₂O</text><text class="s" x="722" y="395">NADH+H</text><text class="s" x="653" y="400">Pi</text>
<text class="s" x="660" y="432">2 ADP</text><text class="s" x="674" y="432">Pi</text><text class="s" x="686" y="432">2 ATP</text><text class="s" x="700" y="432">HCO₃⁻</text><text class="s" x="711" y="432">H</text>
<text class="s" x="759" y="271">Gly</text><text class="s" x="768" y="271">GA</text><text class="s" x="759" y="305">H₂O</text><text class="s" x="767" y="305">NH₃</text>
<text class="s" x="758" y="326">NADH+H</text><text class="s" x="776" y="326">NAD</text><text class="s" x="759" y="342">NADPH</text><text class="s" x="776" y="342">NADP</text>
<text class="s" x="340" y="555">THF</text><text class="s" x="351" y="555">H₂O</text><text class="s" x="396" y="544">NADP</text><text class="s" x="411" y="544">NADPH</text><text class="s" x="465" y="544">H₂O</text><text class="s" x="477" y="544">H</text>
<text class="s" x="361" y="568">NADPH+H</text><text class="s" x="378" y="568">NADP</text><text class="s" x="407" y="568">NADPH+H</text><text class="s" x="425" y="568">NADP</text><text class="s" x="460" y="568">formate+ATP</text><text class="s" x="479" y="568">ADP+Pi</text>
<text class="s" x="596" y="513">7 H</text><text class="s" x="614" y="513">7 FADH₂</text><text class="s" x="634" y="513">7 NADH</text><text class="s" x="601" y="540">7 H₂O</text><text class="s" x="619" y="540">7 FAD</text><text class="s" x="639" y="540">7 NAD</text><text class="s" x="657" y="540">7 CoA</text>
<text class="s" x="697" y="514">carnitine</text><text class="s" x="709" y="514">CoA</text>
<text class="s" x="784" y="512">carnitine</text><text class="s" x="808" y="512">carnitine</text>
<text class="s R" x="863" y="508">carnitine</text><text class="s R" x="861" y="514">CoA</text>
<text class="s R" x="863" y="475">ATP+CoA</text><text class="s R" x="863" y="481">AMP+PPi</text>
</g>
<g id="transport-labels">
<text class="m m9 L" x="778" y="402">Ser</text><text class="m m9 R" x="817" y="402">Ser</text>
<text class="m m9 L" x="778" y="413">Gly</text><text class="m m9 R" x="817" y="413">Gly</text>
<text class="m m9 L" x="778" y="423">Folate</text><text class="m m9 R" x="817" y="423">Folate</text>
<text class="m m9 L" x="778" y="434">Formate</text><text class="m m9 R" x="817" y="434">Formate</text>
<text class="m m9 L" x="778" y="446">H₂O</text><text class="m m9 R" x="817" y="446">H₂O</text>
<text class="m m9 L" x="778" y="458">CO₂</text><text class="m m9 R" x="817" y="458">CO₂</text>
<text class="m m9 L" x="778" y="471">CoA</text><text class="m m9 R" x="817" y="471">CoA</text>
<text class="m m9 L" x="778" y="482">NH₃</text><text class="m m9 R" x="817" y="482">NH₃</text>
<text class="m m9 L" x="778" y="495">O₂</text><text class="m m9 R" x="817" y="495">O₂</text>
<text class="m m9" x="784" y="544">H</text><text class="m m9" x="808" y="544">H</text>
<text class="m m9 L" x="770" y="557">Pi</text><text class="m m9 R" x="817" y="557">Pi</text>
<text class="m m9" x="785" y="569">ATP</text><text class="m m9" x="812" y="569">ATP</text>
<text class="m m9 L" x="772" y="584">ADP</text><text class="m m9 R" x="822" y="584">ADP</text>
<text class="m m9" x="783" y="593">GTP</text><text class="m m9" x="808" y="593">GTP</text>
<text class="m m9 L" x="771" y="607">GDP</text><text class="m m9 R" x="821" y="607">GDP</text>
<text class="m m9 L" x="78" y="426">Fum</text><text class="m m9 R" x="124" y="426">Fum</text>
<text class="m m9" x="90" y="413">Pi</text><text class="m m9" x="112" y="413">Pi</text>
<text class="m m9" x="90" y="435">Mal</text><text class="m m9" x="114" y="435">Mal</text>
<text class="m m9 L" x="78" y="448">AKG</text><text class="m m9 R" x="124" y="448">AKG</text>
<text class="m m9" x="91" y="456">Pi</text><text class="m m9" x="112" y="456">Pi</text>
<text class="m m9 L" x="80" y="470">AKG</text><text class="m m9 R" x="124" y="470">AKG</text>
<text class="m m9" x="91" y="478">H</text><text class="m m9" x="112" y="478">H</text>
<text class="m m9 L" x="78" y="490">Orn</text><text class="m m9 R" x="119" y="490">Orn</text>
<text class="m m9" x="80" y="499">Arg</text><text class="m m9" x="92" y="499">H</text><text class="m m9" x="111" y="499">H</text><text class="m m9" x="124" y="499">Arg</text>
<text class="m m9 L" x="72" y="512">Orn</text><text class="m m9 R" x="133" y="512">Orn</text>
<text class="m m9" x="82" y="522">Arg</text><text class="m m9" x="95" y="522">H</text><text class="m m9" x="114" y="522">H</text><text class="m m9" x="126" y="522">Arg</text>
<text class="m m9 L" x="76" y="535">Orn</text><text class="m m9 R" x="131" y="535">Orn</text>
<text class="m m9" x="79" y="545">Arg</text><text class="m m9" x="91" y="545">H</text><text class="m m9" x="111" y="545">H</text><text class="m m9" x="123" y="545">Arg</text>
<text class="m m9 L" x="74" y="557">Ci</text><text class="m m9 R" x="129" y="557">Ci</text>
<text class="m m9" x="79" y="563">Arg</text><text class="m m9" x="91" y="563">H</text><text class="m m9" x="111" y="563">H</text><text class="m m9" x="122" y="563">Arg</text>
<text class="m m9 L" x="74" y="578">Ci</text><text class="m m9 R" x="123" y="578">Ci</text>
<text class="m m9" x="92" y="585">H</text><text class="m m9" x="112" y="585">H</text>
<text class="m m9 L" x="77" y="598">Arg</text><text class="m m9 R" x="124" y="598">Arg</text>
<text class="m m9" x="97" y="605">H</text><text class="m m9" x="117" y="605">H</text>
<text class="m m9 L" x="83" y="620">Ci</text><text class="m m9 R" x="124" y="620">Ci</text>
</g>
<g id="etc-labels">
<text class="m m8" x="162" y="616">NADH</text><text class="m m8" x="183" y="616">5 H</text><text class="m m8" x="199" y="616">Q</text><text class="m m8" x="225" y="616">NAD</text><text class="m m8" x="244" y="616">QH₂</text>
<text class="m m8" x="272" y="616">FADH₂</text><text class="m m8" x="292" y="616">Q</text><text class="m m8" x="311" y="616">FAD</text><text class="m m8" x="332" y="616">QH₂</text>
<text class="m m8" x="360" y="616">2 Cytc-ox</text><text class="m m8" x="392" y="616">2 H</text><text class="m m8" x="413" y="616">QH₂</text><text class="m m8" x="448" y="616">2 Cytc-red</text><text class="m m8" x="474" y="616">Q</text>
<text class="m m8" x="504" y="616">4 Cytc-red</text><text class="m m8" x="531" y="616">8 H</text><text class="m m8" x="548" y="616">O₂</text><text class="m m8" x="579" y="616">4 Cytc-ox</text><text class="m m8" x="620" y="616">2 H₂O</text>
<text class="m m8" x="646" y="616">ADP</text><text class="m m8" x="663" y="616">Pi</text><text class="m m8" x="688" y="616">ATP</text><text class="m m8" x="707" y="616">2 H₂O</text><text class="m m8" x="730" y="616">4 H</text>
<text class="m m8" x="218" y="655">4 H</text><text class="m m8" x="433" y="655">4 H</text><text class="m m8" x="565" y="653">4 H</text><text class="m m8" x="671" y="651">4 H</text>
</g>
<g id="exchange-labels">
<text class="m m8" x="259" y="664">O₂</text><text class="m m8" x="281" y="664">Gln</text><text class="m m8" x="305" y="664">Glc</text><text class="m m8" x="327" y="664">Folate</text><text class="m m8" x="347" y="664">Arg</text><text class="m m8" x="375" y="664">carnitine</text>
<text class="m m8" x="412" y="664">Biomass</text><text class="m m8" x="441" y="664">Lact</text><text class="m m8" x="463" y="664">Urea</text><text class="m m8" x="483" y="664">Glu</text><text class="m m8" x="501" y="664">NH₃</text><text class="m m8" x="523" y="664">Putr</text>
<text class="m m8" x="543" y="664">GA</text><text class="m m8" x="562" y="664">CO₂</text><text class="m m8" x="577" y="664">Pi</text><text class="m m8" x="612" y="664">10-formylTHF</text><text class="m m8" x="650" y="664">H₂O</text><text class="m m8" x="668" y="664">H</text><text class="m m8" x="687" y="664">Palm</text>
</g>
<g id="nodes">
<g id="n-glc"><text class="m" x="223" y="21">Glc</text></g>
<g id="n-g6p"><text class="m" x="223" y="58">G6P</text></g>
<g id="n-f6p"><text class="m" x="223" y="87">F6P</text></g>
<g id="n-f16bp"><text class="m" x="225" y="118">F16BP</text></g>
<g id="n-dhap"><text class="m" x="253" y="131">DHAP</text></g>
<g id="n-ga3p"><text class="m" x="225" y="151">GA3P</text></g>
<g id="n-13bpga"><text class="m" x="224" y="187">1,3BPGA</text></g>
<g id="n-3pg"><text class="m" x="226" y="225">3PG</text></g>
<g id="n-2pg"><text class="m" x="226" y="258">2PG</text></g>
<g id="n-pep"><text class="m" x="226" y="290">PEP</text></g>
<g id="n-pyr"><text class="m" x="228" y="320">Pyr</text></g>
<g id="n-lact"><text class="m" x="167" y="320">Lact</text></g>
<g id="n-ala"><text class="m" x="169" y="338">Ala</text></g>
<g id="n-6pgl"><text class="m" x="272" y="60">6Pgl</text></g>
<g id="n-6pdg"><text class="m" x="312" y="60">6PDG</text></g>
<g id="n-ru5p"><text class="m" x="366" y="60">Ru5P</text></g>
<g id="n-xil5p"><text class="m" x="412" y="50">Xil5P</text></g>
<g id="n-r5p"><text class="m" x="410" y="68">R5P</text></g>
<g id="n-sed7p"><text class="m" x="453" y="49">Sed7P</text></g>
<g id="n-ga3p2"><text class="m" x="453" y="68">GA3P</text></g>
<g id="n-f6p2"><text class="m" x="494" y="49">F6P</text></g>
<g id="n-ery4p"><text class="m" x="497" y="68">Ery4P</text></g>
<g id="n-xil5p2"><text class="m" x="497" y="82">Xil5P</text></g>
<g id="n-sed17bp"><text class="m" x="490" y="37">Sed1,7BP</text></g>
<g id="n-ery4p2"><text class="m" x="551" y="37">Ery4P</text></g>
<g id="n-dhap2"><text class="m" x="524" y="52">DHAP</text></g>
<g id="n-ga3p3"><text class="m" x="540" y="67">GA3P</text></g>
<g id="n-f6p3"><text class="m" x="540" y="82">F6P</text></g>
<g id="n-prpp"><text class="m" x="411" y="98">PRPP</text></g>
<g id="n-imp"><text class="m" x="540" y="99">IMP</text></g>
<g id="n-amp"><text class="m" x="600" y="100">AMP</text></g>
<g id="n-adp"><text class="m" x="647" y="99">ADP</text></g>
<g id="n-dadp"><text class="m" x="686" y="99">dADP</text></g>
<g id="n-damp"><text class="m" x="737" y="99">dAMP</text></g>
<g id="n-ump"><text class="m" x="512" y="130">UMP</text></g>
<g id="n-gmp"><text class="m" x="649" y="126">GMP</text></g>
<g id="n-gdp"><text class="m" x="693" y="126">GDP</text></g>
<g id="n-dgdp"><text class="m" x="734" y="126">dGDP</text></g>
<g id="n-dgmp"><text class="m" x="784" y="125">dGMP</text></g>
<g id="n-dtmp"><text class="m" x="360" y="162">dTMP</text></g>
<g id="n-dump"><text class="m" x="418" y="162">dUMP</text></g>
<g id="n-dudp"><text class="m" x="469" y="162">dUDP</text></g>
<g id="n-udp"><text class="m" x="513" y="162">UDP</text></g>
<g id="n-utp"><text class="m" x="553" y="162">UTP</text></g>
<g id="n-ctp"><text class="m" x="604" y="162">CTP</text></g>
<g id="n-cdp"><text class="m" x="644" y="162">CDP</text></g>
<g id="n-cmp"><text class="m" x="688" y="162">CMP</text></g>
<g id="n-dcdp"><text class="m" x="643" y="187">dCDP</text></g>
<g id="n-dcmp"><text class="m" x="690" y="187">dCMP</text></g>
<g id="n-co2c"><text class="m m8" x="764" y="169">CO₂</text></g>
<g id="n-hco3c"><text class="m m8" x="810" y="169">HCO₃⁻</text></g>
<g id="n-ppi"><text class="m m8" x="762" y="194">PPi</text></g>
<g id="n-pi"><text class="m m8" x="806" y="194">Pi</text></g>
<g id="n-atp"><text class="m m8" x="763" y="214">ATP</text></g>
<g id="n-adp2"><text class="m m8" x="807" y="214">ADP</text></g>
<g id="n-folate"><text class="m" x="51" y="108">Folate</text></g>
<g id="n-dhf"><text class="m" x="50" y="141">DHF</text></g>
<g id="n-thf"><text class="m" x="50" y="178">THF</text></g>
<g id="n-10fthf"><text class="m" x="51" y="214">10-formyl</text><text class="m" x="51" y="226">THF</text></g>
<g id="n-methf"><text class="m" x="120" y="128">meTHF</text></g>
<g id="n-mthf"><text class="m" x="123" y="165">mTHF</text></g>
<g id="n-gly"><text class="m" x="174" y="115">Gly</text></g>
<g id="n-ser"><text class="m" x="174" y="164">Ser</text></g>
<g id="n-pyr2"><text class="m" x="207" y="165">Pyr</text></g>
<g id="n-3pser"><text class="m" x="177" y="193">3PSer</text></g>
<g id="n-3ppyr"><text class="m" x="177" y="226">3PPyr</text></g>
<g id="n-fumc"><text class="m" x="146" y="222">Fum</text></g>
<g id="n-malc"><text class="m" x="146" y="257">Mal</text></g>
<g id="n-oaac"><text class="m" x="146" y="292">OAA</text></g>
<g id="n-asn"><text class="m" x="48" y="323">Asn</text></g>
<g id="n-aspc"><text class="m" x="147" y="326">Asp</text></g>
<g id="n-fum2"><text class="m" x="114" y="353">Fum</text></g>
<g id="n-glu-h-in"><text class="m m9" x="132" y="343">Glu</text><text class="m m9" x="135" y="352">H</text></g>
<g id="n-glu-h-out"><text class="m m9" x="171" y="367">Glu</text><text class="m m9" x="167" y="375">H</text></g>
<g id="n-aspm"><text class="m" x="148" y="385">Asp</text></g>
<g id="n-oaam2"><text class="m" x="148" y="417">OAA</text></g>
<g id="n-pyrm"><text class="m" x="224" y="387">Pyr</text></g>
<g id="n-accoam"><text class="m" x="226" y="436">AcCoA</text></g>
<g id="n-oaam"><text class="m" x="278" y="464">OAA</text></g>
<g id="n-citm"><text class="m" x="280" y="426">Cit</text></g>
<g id="n-malm"><text class="m" x="298" y="496">Mal</text></g>
<g id="n-isocit"><text class="m" x="303" y="397">Isocit</text></g>
<g id="n-akgm"><text class="m" x="380" y="397">AKG</text></g>
<g id="n-sucoa"><text class="m" x="408" y="430">SuCoA</text></g>
<g id="n-succ"><text class="m" x="407" y="473">Succ</text></g>
<g id="n-fumm"><text class="m" x="369" y="506">Fum</text></g>
<g id="n-co2m"><text class="m" x="476" y="464">CO₂</text></g>
<g id="n-hco3m"><text class="m" x="514" y="463">HCO₃⁻</text></g>
<g id="n-citc"><text class="m" x="281" y="267">Cit</text></g>
<g id="n-iso"><text class="m" x="287" y="302">Iso</text></g>
<g id="n-akgc"><text class="m" x="348" y="302">AKG</text></g>
<g id="n-accoac"><text class="m" x="351" y="267">AcCoA</text></g>
<g id="n-acaccoa"><text class="m" x="405" y="267">AcAcCoA</text></g>
<g id="n-hmgcoa"><text class="m" x="464" y="267">HMGCoA</text></g>
<g id="n-ipppp"><text class="m" x="566" y="267">ippPP</text></g>
<g id="n-fpp"><text class="m" x="608" y="267">fPP</text></g>
<g id="n-chol"><text class="m" x="707" y="267">Chol</text></g>
<g id="n-acacp"><text class="m" x="423" y="217">AcACP</text></g>
<g id="n-acacacp"><text class="m" x="500" y="217">AcAcACP</text></g>
<g id="n-palm"><text class="m" x="601" y="217">Palm</text></g>
<g id="n-malcoa"><text class="m" x="426" y="237">MalCoA</text></g>
<g id="n-malacp"><text class="m" x="482" y="237">MalACP</text></g>
<g id="n-glnc"><text class="m" x="506" y="345">Gln</text></g>
<g id="n-gluc"><text class="m" x="557" y="345">Glu</text></g>
<g id="n-glnm"><text class="m" x="506" y="376">Gln</text></g>
<g id="n-glum"><text class="m" x="561" y="376">Glu</text></g>
<g id="n-argsuc"><text class="m" x="630" y="309">ArgSuc</text></g>
<g id="n-arg"><text class="m" x="663" y="300">Arg</text></g>
<g id="n-orn"><text class="m" x="668" y="333">Orn</text></g>
<g id="n-putr"><text class="m" x="701" y="303">Putr</text></g>
<g id="n-cic"><text class="m" x="639" y="345">Ci</text></g>
<g id="n-orn-h-out"><text class="m m9 R" x="649" y="349">Orn</text><text class="m m9 R" x="650" y="357">H</text></g>
<g id="n-orn-h-in"><text class="m m9 R" x="652" y="367">H</text><text class="m m9 R" x="652" y="376">Orn</text></g>
<g id="n-cim"><text class="m" x="639" y="388">Ci</text></g>
<g id="n-glusam"><text class="m" x="739" y="376">GluSA</text></g>
<g id="n-glusac"><text class="m" x="736" y="344">GluSA</text></g>
<g id="n-p5c"><text class="m" x="739" y="316">P5C</text></g>
<g id="n-pro"><text class="m" x="791" y="315">Pro</text></g>
<g id="n-arg2"><text class="m" x="741" y="283">Arg</text></g>
<g id="n-orn2"><text class="m" x="787" y="284">Orn</text></g>
<g id="n-ci2"><text class="m m9" x="786" y="294">Ci</text></g>
<g id="n-glum2"><text class="m" x="738" y="407">Glu</text></g>
<g id="n-nh3m"><text class="m" x="724" y="417">NH₃</text></g>
<g id="n-cp"><text class="m" x="652" y="413">CP</text></g>
<g id="n-ornm"><text class="m" x="638" y="420">Orn</text></g>
<g id="n-serm"><text class="m" x="322" y="541">Ser</text></g>
<g id="n-glym"><text class="m" x="382" y="541">Gly</text></g>
<g id="n-methfm"><text class="m" x="373" y="558">meTHF</text></g>
<g id="n-mthfm"><text class="m" x="428" y="557">mTHF</text></g>
<g id="n-folatem"><text class="m" x="342" y="581">Folate</text></g>
<g id="n-dhfm"><text class="m" x="391" y="581">DHF</text></g>
<g id="n-thfm"><text class="m" x="440" y="581">THF</text></g>
<g id="n-10fthfm"><text class="m" x="503" y="581">10-formylTHF</text></g>
<g id="n-8accoa"><text class="m" x="571" y="527">8 AcCoA</text></g>
<g id="n-palmcoam"><text class="m" x="675" y="527">PalmCoA</text></g>
<g id="n-palmcarm"><text class="m" x="749" y="527">PalmCarnitine</text></g>
<g id="n-palmcarc"><text class="m R" x="818" y="527">PalmCarnitine</text></g>
<g id="n-palmc"><text class="m" x="853" y="462">Palm</text></g>
<g id="n-palmcoac"><text class="m" x="855" y="493">PalmCoA</text></g>
</g>
<g id="foldchange">
<text class="leg" x="905" y="131" font-size="16.6">Fold change</text>
<text class="leg" x="905" y="151" font-size="16.6">Max: 1.68</text>
<text class="leg" x="905" y="171" font-size="16.6">min:-1.51</text>
</g>
<g id="legend">
<text class="leg" x="115" y="702" font-size="15">Legend</text>
<rect x="115" y="716" width="44" height="13" fill="#ED1C24"/><text class="leg" x="166" y="726" font-size="11.3">= Up regulated</text>
<rect x="115" y="744" width="44" height="13" fill="#0000FF"/><text class="leg" x="166" y="754" font-size="11.3">= Down regulated</text>
<rect x="311" y="714" width="12" height="14" fill="#BDBDBD"/><rect x="335" y="714" width="14" height="14" fill="#BDBDBD"/><text class="leg" x="360" y="724" font-size="11.3">= Not significant</text>
<rect x="311" y="743" width="43" height="14" fill="#BDBDBD"/><text class="leg" x="360" y="753" font-size="11.3">= Fold change under threshold</text>
<rect x="557" y="713" width="43" height="14" fill="#000"/><text class="leg" x="607" y="724" font-size="11.3">= Not classified</text>
<text class="leg" x="557" y="752" font-size="11.3">Thickness is proportional to fold change</text>
</g>
</svg>
